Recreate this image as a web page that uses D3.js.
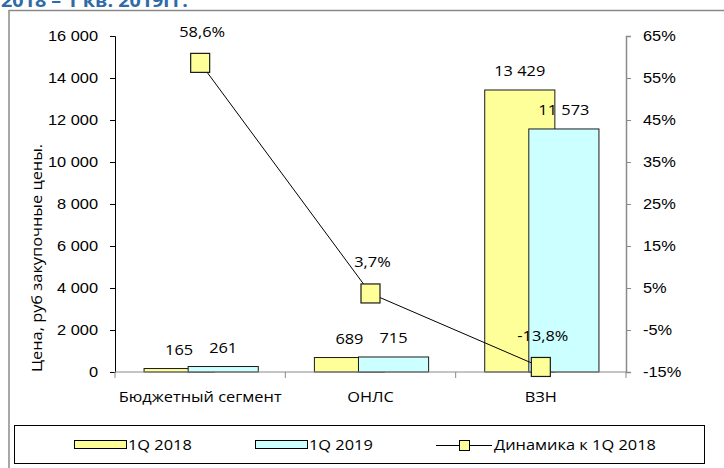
<!DOCTYPE html>
<html>
<head>
<meta charset="utf-8">
<script src="https://cdn.jsdelivr.net/npm/d3@7"></script>
<style>
  body { margin: 0; background: #fff; }
  svg { display: block; font-family: "Open Sans", Lato, sans-serif; }
</style>
</head>
<body>
<div id="chart"></div>
<script>
const categories = ['Бюджетный сегмент', 'ОНЛС', 'ВЗН'];
const q2018 = [165, 689, 13429];
const q2019 = [261, 715, 11573];
const dynamics = [58.6, 3.7, -13.8];
const leftTicks = [0, 2000, 4000, 6000, 8000, 10000, 12000, 14000, 16000];
const rightTicks = [-15, -5, 5, 15, 25, 35, 45, 55, 65];
const seriesNames = ['1Q 2018', '1Q 2019', 'Динамика к 1Q 2018'];

const width = 724, height = 468;
const fontSize = 14.5;
const stretch = 1.13; // the source picture is a bit wider than tall

const locale = d3.formatLocale({decimal: ',', thousands: ' ', grouping: [3], currency: ['', ''], minus: '-'});
const fmtNum = locale.format(',d');
const fmtPct = d => locale.format('.1f')(d) + '%';

const svg = d3.select('#chart').append('svg')
  .attr('width', width)
  .attr('height', height)
  .style('font-size', fontSize + 'px');

// title, cut off by the top of the picture as in the source
svg.append('text')
  .attr('x', 1)
  .attr('y', 7)
  .attr('fill', '#2f6ba8')
  .attr('font-weight', 'bold')
  .style('font-size', '17.5px')
  .text('2018 – 1 кв. 2019гг.');

// outer frame
svg.append('rect')
  .attr('x', 9)
  .attr('y', 10.5)
  .attr('width', 730)
  .attr('height', 480)
  .attr('fill', 'none')
  .attr('stroke', '#8a8a8a')
  .attr('stroke-width', 1.5);

const x = d3.scaleBand().domain(categories).range([115, 626]);
const yL = d3.scaleLinear().domain([0, 16000]).range([372, 36]);
const yR = d3.scaleLinear().domain([-15, 65]).range([372, 36]);

const bw = x.bandwidth();
const barW = bw * 70 / 170;
const start = bw * 29 / 170;
const shift = bw * 44 / 170;

const rows = categories.map((c, i) => ({c, a: q2018[i], b: q2019[i], d: dynamics[i]}));

const bars = [];
rows.forEach(r => {
  bars.push({c: r.c, v: r.a, off: start, fill: '#ffff99'});
  bars.push({c: r.c, v: r.b, off: start + shift, fill: '#ccffff'});
});

svg.append('g')
  .selectAll('rect')
  .data(bars)
  .join('rect')
    .attr('x', d => x(d.c) + d.off)
    .attr('y', d => yL(d.v))
    .attr('width', barW)
    .attr('height', d => yL(0) - yL(d.v))
    .attr('fill', d => d.fill)
    .attr('stroke', '#1a1a1a')
    .attr('stroke-width', 1);

// left axis
const axL = svg.append('g')
  .attr('transform', 'translate(115,0)')
  .call(d3.axisLeft(yL).tickValues(leftTicks).tickFormat(fmtNum).tickSizeOuter(0).tickSize(5).tickPadding(12));
axL.select('.domain').attr('stroke', '#000');
axL.selectAll('.tick line').attr('stroke', '#000');
axL.selectAll('text').attr('fill', '#000').style('font-size', fontSize + 'px').style('font-family', 'inherit');

// right axis
const axR = svg.append('g')
  .attr('transform', 'translate(626,0)')
  .call(d3.axisRight(yR).tickValues(rightTicks).tickFormat(d => d + '%').tickSizeOuter(0).tickSize(5).tickPadding(12));
axR.select('.domain').attr('stroke', '#8a8a8a').attr('stroke-width', 1.5);
axR.selectAll('.tick line').attr('stroke', '#8a8a8a');
axR.selectAll('text').attr('fill', '#000').style('font-size', fontSize + 'px').style('font-family', 'inherit');

// category axis
const axX = svg.append('g')
  .attr('transform', 'translate(0,372)');
axX.append('line')
  .attr('x1', 115).attr('x2', 626)
  .attr('stroke', '#8a8a8a');
axX.selectAll('line.tk')
  .data(categories.concat(['end']))
  .join('line')
    .attr('class', 'tk')
    .attr('x1', (d, i) => i < categories.length ? x(d) : x.range()[1])
    .attr('x2', (d, i) => i < categories.length ? x(d) : x.range()[1])
    .attr('y1', 0).attr('y2', 6)
    .attr('stroke', '#8a8a8a');
axX.selectAll('text')
  .data(categories)
  .join('text')
    .attr('x', d => x(d) + bw / 2)
    .attr('y', 30)
    .attr('text-anchor', 'middle')
    .text(d => d);

// axis title
svg.append('text')
  .attr('transform', 'translate(42,258) rotate(-90)')
  .attr('text-anchor', 'middle')
  .text('Цена, руб закупочные цены.');

// bar labels
svg.append('g')
  .selectAll('text')
  .data(bars)
  .join('text')
    .attr('x', d => x(d.c) + d.off + barW / 2)
    .attr('y', d => yL(d.v) - 14)
    .attr('text-anchor', 'middle')
    .text(d => fmtNum(d.v));

// dynamics line
const line = d3.line()
  .x(d => x(d.c) + bw / 2)
  .y(d => yR(d.d));

svg.append('path')
  .datum(rows)
  .attr('d', line)
  .attr('fill', 'none')
  .attr('stroke', '#000')
  .attr('stroke-width', 1);

const mk = 19;
svg.append('g')
  .selectAll('rect')
  .data(rows)
  .join('rect')
    .attr('x', d => x(d.c) + bw / 2 - mk / 2)
    .attr('y', d => yR(d.d) - mk / 2)
    .attr('width', mk)
    .attr('height', mk)
    .attr('fill', '#ffff99')
    .attr('stroke', '#1a1a1a')
    .attr('stroke-width', 1.2);

svg.append('g')
  .selectAll('text')
  .data(rows)
  .join('text')
    .attr('x', d => x(d.c) + bw / 2 + 2)
    .attr('y', d => yR(d.d) - 26)
    .attr('text-anchor', 'middle')
    .text(d => fmtPct(d.d));

// legend
const leg = svg.append('g');
leg.append('rect')
  .attr('x', 14.5).attr('y', 425.5)
  .attr('width', 690).attr('height', 38)
  .attr('fill', '#fff')
  .attr('stroke', '#000');

const legItems = [
  {name: seriesNames[0], kind: 'bar', fill: '#ffff99', x: 74},
  {name: seriesNames[1], kind: 'bar', fill: '#ccffff', x: 255},
  {name: seriesNames[2], kind: 'line', fill: '#ffff99', x: 436}
];

legItems.forEach(it => {
  const g = leg.append('g').attr('transform', `translate(${it.x},445)`);
  if (it.kind === 'bar') {
    g.append('rect')
      .attr('x', 0.5).attr('y', -4.5)
      .attr('width', 52).attr('height', 8)
      .attr('fill', it.fill)
      .attr('stroke', '#000');
    g.append('text').attr('x', 54).attr('y', 5).text(it.name);
  } else {
    g.append('line')
      .attr('x1', 0).attr('x2', 56)
      .attr('y1', 0.5).attr('y2', 0.5)
      .attr('stroke', '#000');
    g.append('rect')
      .attr('x', 23.5).attr('y', -4.5)
      .attr('width', 10).attr('height', 10)
      .attr('fill', it.fill)
      .attr('stroke', '#000');
    g.append('text').attr('x', 58).attr('y', 5).text(it.name);
  }
});

// widen every text around its anchor
svg.selectAll('text').each(function() {
  const t = d3.select(this);
  const tx = +t.attr('x') || 0;
  const tr = t.attr('transform') || '';
  t.attr('transform', `${tr} translate(${tx},0) scale(${stretch},1) translate(${-tx},0)`);
});
</script>
</body>
</html>
